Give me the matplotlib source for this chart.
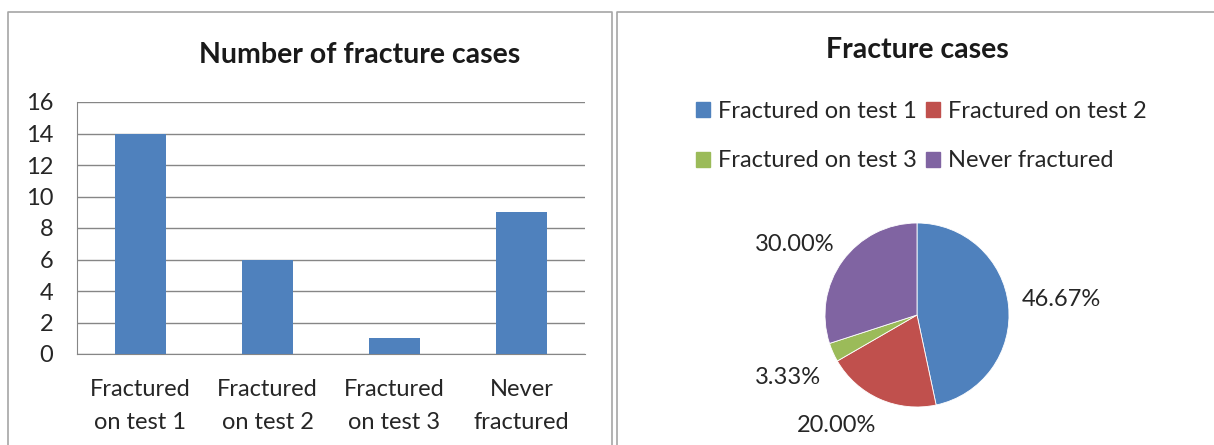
import numpy as np
import matplotlib.pyplot as plt
from matplotlib.patches import Rectangle
from matplotlib.lines import Line2D

plt.rcParams['font.family'] = ['Lato', 'DejaVu Sans']

categories = ["Fractured\non test 1", "Fractured\non test 2", "Fractured\non test 3", "Never\nfractured"]
legend_labels = ["Fractured on test 1", "Fractured on test 2", "Fractured on test 3", "Never fractured"]
counts = [14, 6, 1, 9]
y_ticks = [0, 2, 4, 6, 8, 10, 12, 14, 16]
colors = ["#4F81BD", "#C0504D", "#9BBB59", "#8064A2"]

W, H = 1214, 445
fig = plt.figure(figsize=(W / 100, H / 100), dpi=100)
txt = "#262626"
fs = 17


def box(x0, y0, x1, y1):
    # pixel box (top-left origin) -> figure fraction rect
    return [x0 / W, 1 - y1 / H, (x1 - x0) / W, (y1 - y0) / H]


# panel borders
border = "#A6A6A6"
for xs, ys in [([8, 8, 612, 612], [H, 12, 12, H]),
               ([617, 617, 1216], [H, 12, 12])]:
    fig.add_artist(Line2D([x / W for x in xs], [1 - y / H for y in ys],
                          color=border, lw=1.2))

# bar chart
ax = fig.add_axes(box(77, 102, 585, 354))
x = range(len(counts))
ax.bar(x, counts, width=0.4, color=colors[0], zorder=3)
ax.set_xlim(-0.5, len(counts) - 0.5)
ax.set_ylim(0, 16)
ax.set_yticks(y_ticks)
ax.set_xticks(list(x))
ax.set_xticklabels(categories, fontsize=fs, color=txt, linespacing=1.7)
ax.tick_params(axis="y", length=0, pad=17, labelsize=fs, labelcolor=txt)
ax.tick_params(axis="x", length=0, pad=18)
ax.grid(axis="y", color="#868686", lw=1, zorder=0)
for s in ["top", "right"]:
    ax.spines[s].set_visible(False)
for s in ["left", "bottom"]:
    ax.spines[s].set_color("#868686")
fig.text(360 / W, 1 - 55 / H, "Number of fracture cases", ha="center", va="center",
         fontsize=20.5, fontweight="bold", color="#1a1a1a")

# pie chart
r = 92
axp = fig.add_axes(box(917 - r, 315 - r, 917 + r, 315 + r))
wedges, texts, autotexts = axp.pie(counts, colors=colors, startangle=90, counterclock=False,
                                   autopct="%.2f%%", pctdistance=1.55, radius=1,
                                   wedgeprops=dict(edgecolor="white", linewidth=0.6))
# Excel-style outside label placement: small angular nudge / distance per label
nudge = [0, -12, 2, 6]
dist = [1.58, 1.49, 1.56, 1.54]
for w, t, dn, d in zip(wedges, autotexts, nudge, dist):
    a = np.deg2rad((w.theta1 + w.theta2) / 2 + dn)
    t.set_position((d * np.cos(a), d * np.sin(a)))
    t.set_fontsize(fs)
    t.set_color(txt)
axp.set_xlim(-1, 1)
axp.set_ylim(-1, 1)
axp.set_aspect("equal")
fig.text(917 / W, 1 - 50 / H, "Fracture cases", ha="center", va="center",
         fontsize=20.5, fontweight="bold", color="#1a1a1a")

# legend laid out row by row, as in the reference
order = [0, 2, 1, 3]
handles = [Rectangle((0, 0), 1, 1, color=colors[i]) for i in order]
fig.legend(handles, [legend_labels[i] for i in order], ncol=2, loc="upper left",
           bbox_to_anchor=(696 / W, 1 - 101 / H), frameon=False, fontsize=fs,
           handlelength=0.6, handleheight=0.6, handletextpad=0.35,
           columnspacing=0.35, labelspacing=1.2, labelcolor=txt,
           borderpad=0, borderaxespad=0)

fig.savefig("out.png", dpi=100)
